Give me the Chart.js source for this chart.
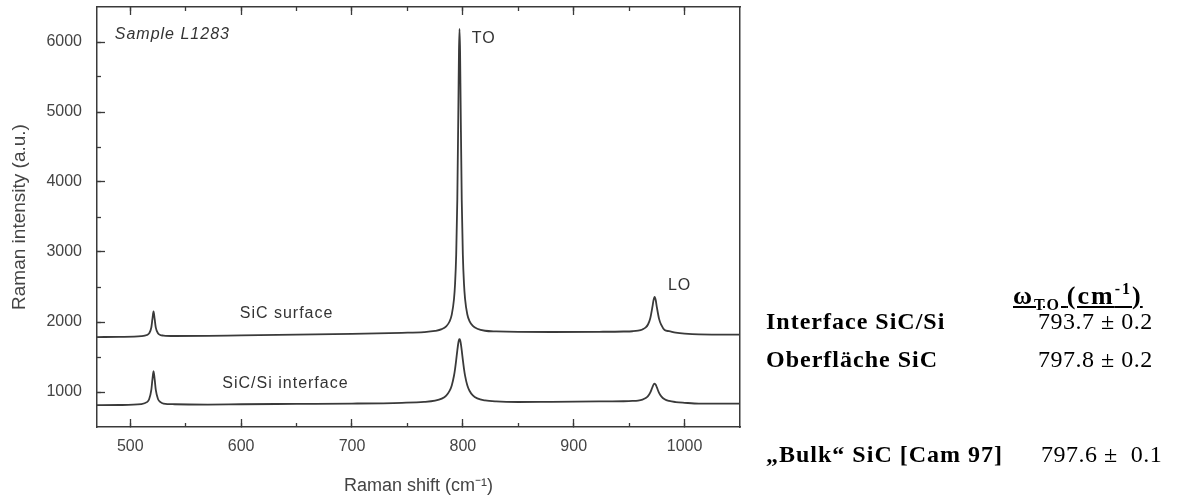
<!DOCTYPE html>
<html>
<head>
<meta charset="utf-8">
<script src="https://cdn.jsdelivr.net/npm/chart.js@4.4.1/dist/chart.umd.min.js"></script>
<style>
  html, body { margin: 0; padding: 0; background: #fff; }
  #wrap { position: relative; width: 1178px; height: 497px; }
  #grafico { position: absolute; left: 0; top: 0; }
  .tab { position: absolute; font-family: "Liberation Serif", "Times New Roman", serif; font-size: 24px; line-height: 24px; color: #000; white-space: pre; }
  .b { font-weight: bold; letter-spacing: 1px; }
  .v { letter-spacing: 0.5px; }
  .head { font-size: 26px; line-height: 26px; font-weight: bold; text-decoration: underline; letter-spacing: 2px; }
  .head sub, .head sup { font-size: 16px; line-height: 0; }
</style>
</head>
<body>
<div id="wrap">
  <canvas id="grafico" width="1178" height="497"></canvas>
  <div class="tab head" style="left:1013px; top:283px;">ω<sub>TO </sub>(cm<sup>-1</sup>)</div>
  <div class="tab b" style="left:766px; top:309px;">Interface SiC/Si</div>
  <div class="tab v" style="left:1038px; top:309px;">793.7 ± 0.2</div>
  <div class="tab b" style="left:766px; top:347px;">Oberfläche SiC</div>
  <div class="tab v" style="left:1038px; top:347px;">797.8 ± 0.2</div>
  <div class="tab b" style="left:766px; top:442px;">„Bulk“ SiC [Cam 97]</div>
  <div class="tab v" style="left:1041px; top:442px;">797.6 ±  0.1</div>
</div>
<script>
// Raman-Verschiebung (cm^-1), gemeinsame Stützstellen für beide Spektren
const ramanShift = [470, 490, 510, 515, 517, 519, 520, 521, 522, 523, 525, 527, 530, 540, 570, 600, 650, 700,
  745, 765, 775, 781, 785, 788, 790, 792, 793, 794, 795, 796, 796.5, 797, 797.5, 798, 799, 800, 801, 802,
  804, 806, 809, 813, 820, 830, 850, 880, 923, 945, 953, 958, 962, 965, 967, 969, 971, 972, 973, 974,
  975, 977, 979, 982, 986, 992, 1000, 1013, 1030, 1050];

// Intensität "SiC surface" (a.u.)
const surface = [1785, 1788, 1798, 1814, 1837, 1922, 2043, 2152, 2043, 1923, 1839, 1815, 1806, 1800, 1802, 1810, 1820, 1830,
  1845, 1856, 1873, 1898, 1938, 2007, 2105, 2325, 2550, 2960, 3742, 5128, 5862, 6187, 5864, 5130, 3745, 2965, 2555, 2330,
  2110, 2012, 1943, 1904, 1875, 1865, 1858, 1857, 1860, 1864, 1868, 1876, 1893, 1922, 1964, 2050, 2216, 2313, 2358, 2310,
  2212, 2045, 1958, 1885, 1869, 1849, 1834, 1822, 1820, 1820];

// Intensität "SiC/Si interface" (a.u.)
const interfaceSi = [812, 814, 827, 855, 896, 1030, 1181, 1297, 1183, 1033, 900, 860, 835, 825, 821, 825, 830, 835,
  846, 858, 876, 905, 948, 1015, 1094, 1232, 1332, 1456, 1592, 1707, 1743, 1755, 1743, 1708, 1594, 1458, 1335, 1235,
  1097, 1018, 951, 909, 880, 865, 857, 860, 865, 868, 872, 878, 891, 913, 941, 990, 1068, 1105, 1120, 1104,
  1066, 987, 937, 896, 872, 856, 846, 835, 835, 835];

// Achsen und Ticks
const xMin = 470, xMax = 1050;
const yMin = 500, yMax = 6500;
const xTicks = [500, 600, 700, 800, 900, 1000];
const xMinorTicks = [500, 550, 600, 650, 700, 750, 800, 850, 900, 950, 1000];
const yTicks = [1000, 2000, 3000, 4000, 5000, 6000];
const yMinorTicks = [1000, 1500, 2000, 2500, 3000, 3500, 4000, 4500, 5000, 5500, 6000];

// Beschriftungen im Diagramm [Text, x, y, Stil, Ausrichtung]
const beschriftungen = [
  ['Sample L1283', 486, 6100, 'italic'],
  ['TO', 808, 6045, ''],
  ['LO', 985, 2515, ''],
  ['SiC surface', 641, 2114, '', 'center'],
  ['SiC/Si interface', 640, 1114, '', 'center']
];

const cor = '#3a3a3a';
const fonte = '"Liberation Sans", Arial, sans-serif';

function paraPontos(ys) {
  return ramanShift.map((x, i) => ({ x: x, y: ys[i] }));
}

function fixarTicks(lista) {
  return function (s) {
    s.ticks = lista.map(v => ({ value: v }));
  };
}

// keine zusätzlichen Ränder durch Beschriftungen
function semPadding(s) {
  s.paddingTop = 0; s.paddingBottom = 0; s.paddingLeft = 0; s.paddingRight = 0;
}

function eixo(pos, min, max, lista, comprimento, extra) {
  const horizontal = pos === 'top' || pos === 'bottom';
  const e = {
    type: 'linear', position: pos, min: min, max: max,
    border: { display: false },
    grid: { drawOnChartArea: false, drawTicks: true, tickLength: -comprimento, tickColor: cor, tickWidth: 1.3 },
    ticks: { display: false },
    afterBuildTicks: fixarTicks(lista),
    afterFit: function (s) { if (horizontal) s.height = 0; else s.width = 0; semPadding(s); }
  };
  return Object.assign(e, extra || {});
}

const textosPlugin = {
  id: 'textos',
  afterDraw(chart) {
    const ctx = chart.ctx;
    const sx = chart.scales.x, sy = chart.scales.y;
    ctx.save();
    ctx.fillStyle = '#333';
    ctx.textBaseline = 'middle';
    ctx.letterSpacing = '1px';
    beschriftungen.forEach(b => {
      ctx.font = (b[3] ? b[3] + ' ' : '') + '16px ' + fonte;
      ctx.textAlign = b[4] || 'left';
      ctx.fillText(b[0], sx.getPixelForValue(b[1]), sy.getPixelForValue(b[2]));
    });
    ctx.restore();
  }
};

new Chart(document.getElementById('grafico'), {
  type: 'line',
  data: {
    datasets: [
      { label: 'SiC surface', data: paraPontos(surface), borderColor: cor, borderWidth: 1.8, pointRadius: 0, cubicInterpolationMode: 'monotone' },
      { label: 'SiC/Si interface', data: paraPontos(interfaceSi), borderColor: cor, borderWidth: 1.8, pointRadius: 0, cubicInterpolationMode: 'monotone' }
    ]
  },
  options: {
    responsive: false,
    animation: false,
    events: [],
    layout: { padding: { left: 0, top: 7, right: 438, bottom: 0 } },
    plugins: { legend: { display: false }, tooltip: { enabled: false } },
    scales: {
      x: {
        type: 'linear', position: 'bottom', min: xMin, max: xMax,
        border: { display: true, color: cor, width: 1.5 },
        grid: { drawOnChartArea: false, tickLength: -8, tickColor: cor, tickWidth: 1.3 },
        ticks: { autoSkip: false, maxRotation: 0, padding: 18, color: '#444',
          font: { family: fonte, size: 16 }, callback: v => String(v) },
        afterBuildTicks: fixarTicks(xTicks),
        title: { display: true, text: 'Raman shift (cm⁻¹)', color: '#444', padding: { top: 0, bottom: 0 },
          font: { family: fonte, size: 18 } },
        afterFit: function (s) { s.height = 70; semPadding(s); }
      },
      y: {
        type: 'linear', position: 'left', min: yMin, max: yMax,
        border: { display: true, color: cor, width: 1.5 },
        grid: { drawOnChartArea: false, tickLength: -8, tickColor: cor, tickWidth: 1.3 },
        ticks: { autoSkip: false, padding: 23, color: '#444',
          font: { family: fonte, size: 16 }, callback: v => String(v) },
        afterBuildTicks: fixarTicks(yTicks),
        title: { display: true, text: 'Raman intensity (a.u.)', color: '#444', padding: { top: 8, bottom: 0 },
          font: { family: fonte, size: 19 } },
        afterFit: function (s) { s.width = 97; semPadding(s); }
      },
      xMinor: eixo('bottom', xMin, xMax, xMinorTicks, 4, { weight: -1 }),
      yMinor: eixo('left', yMin, yMax, yMinorTicks, 4, { weight: -1 }),
      xTop: eixo('top', xMin, xMax, xTicks, 8, { border: { display: true, color: cor, width: 1.5 } }),
      xTopMinor: eixo('top', xMin, xMax, xMinorTicks, 4, { weight: -1 }),
      yRight: eixo('right', yMin, yMax, yTicks, 0, { border: { display: true, color: cor, width: 1.5 }, grid: { drawOnChartArea: false, drawTicks: false } })
    }
  },
  plugins: [textosPlugin]
});
</script>
</body>
</html>
